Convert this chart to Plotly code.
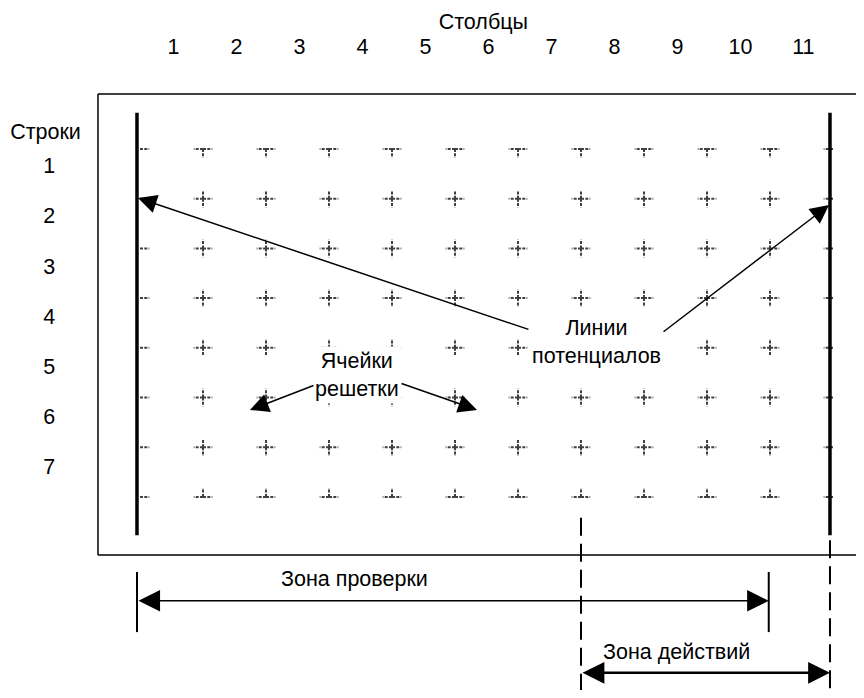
import plotly.graph_objects as go

# ---------------- data ----------------
col_labels = ["1", "2", "3", "4", "5", "6", "7", "8", "9", "10", "11"]
row_labels = ["1", "2", "3", "4", "5", "6", "7"]
col_title = "Столбцы"
row_title = "Строки"
n_cols = len(col_labels)        # cells per row -> boundaries 0..11
n_rows = len(row_labels)        # cells per column -> boundaries 0..7

label_cells = "Ячейки<br>решетки"
label_lines = "Линии<br>потенциалов"
label_check = "Зона проверки"
label_action = "Зона действий"

# ---------------- layout constants (page geometry) ----------------
W, H = 856, 682          # figure size (page body has an 8px margin)
OFF = 8
PX_X0, PX_DX = 140, 63   # page x of boundary 0, px per column
PX_Y0, PX_DY = 149, 49.7 # page y of boundary 0, px per row

FONT = "Arial, Liberation Sans, sans-serif"
FS = 21.5
CROSS_COLOR = "#404040"
ARM_X = 9.3 / PX_DX
ARM_Y = 8.8 / PX_DY

X_MIN = (OFF - PX_X0) / PX_DX
X_MAX = (OFF + W - PX_X0) / PX_DX

# ---------------- grid crosses ----------------
hx, hy, vx, vy = [], [], [], []
for i in range(n_cols + 1):
    for j in range(n_rows + 1):
        if i > 0:
            hx += [i, i - ARM_X, None]; hy += [j, j, None]
        if i < n_cols:
            hx += [i, i + ARM_X, None]; hy += [j, j, None]
        if 0 < i < n_cols:
            if j > 0:
                vx += [i, i, None]; vy += [j, j - ARM_Y, None]
            if j < n_rows:
                vx += [i, i, None]; vy += [j, j + ARM_Y, None]

fig = go.Figure()
fig.add_trace(go.Scatter(x=hx, y=hy, mode="lines", hoverinfo="skip",
                         line=dict(color=CROSS_COLOR, width=2, dash="3px,1.3px")))
fig.add_trace(go.Scatter(x=vx, y=vy, mode="lines", hoverinfo="skip",
                         line=dict(color=CROSS_COLOR, width=2, dash="3px,1.3px")))

# column / row labels
tf = dict(family=FONT, size=FS, color="black")
fig.add_trace(go.Scatter(x=[i + 0.53 for i in range(n_cols)], y=[-2.02] * n_cols,
                         mode="text", text=col_labels, hoverinfo="skip", textfont=tf))
fig.add_trace(go.Scatter(x=[n_cols / 2 - 0.05], y=[-2.53], mode="text", text=[col_title],
                         hoverinfo="skip", textfont=tf))
fig.add_trace(go.Scatter(x=[-1.44] * n_rows, y=[j * 1.01 + 0.38 for j in range(n_rows)],
                         mode="text", text=row_labels, hoverinfo="skip", textfont=tf))
fig.add_trace(go.Scatter(x=[-1.5], y=[-0.3], mode="text", text=[row_title],
                         hoverinfo="skip", textfont=tf))

# ---------------- shapes ----------------
shapes = []
frame = dict(color="black", width=1.5)
X_FRAME_L, Y_FRAME_T, Y_FRAME_B = -0.667, -1.107, 8.17
shapes.append(dict(type="line", xref="x", yref="y", x0=X_FRAME_L, x1=X_MAX,
                   y0=Y_FRAME_T, y1=Y_FRAME_T, line=frame))
shapes.append(dict(type="line", xref="x", yref="y", x0=X_FRAME_L, x1=X_MAX,
                   y0=Y_FRAME_B, y1=Y_FRAME_B, line=frame))
shapes.append(dict(type="line", xref="x", yref="y", x0=X_FRAME_L, x1=X_FRAME_L,
                   y0=Y_FRAME_T, y1=Y_FRAME_B, line=frame))
# potential lines (thick)
for xl in (-0.048, 10.952):
    shapes.append(dict(type="line", xref="x", yref="y", x0=xl, x1=xl, y0=-0.73, y1=7.77,
                       line=dict(color="black", width=3.5)))
# dashed extensions
shapes.append(dict(type="line", xref="x", yref="y", x0=7, x1=7, y0=7.42, y1=11.4,
                   line=dict(color="black", width=2, dash="18px,8px")))
shapes.append(dict(type="line", xref="x", yref="y", x0=10.952, x1=10.952, y0=7.87, y1=11.4,
                   line=dict(color="black", width=2, dash="18px,8px")))
# zone check ticks
for xl in (-0.048, 9.98):
    shapes.append(dict(type="line", xref="x", yref="y", x0=xl, x1=xl, y0=8.51, y1=9.72,
                       line=dict(color="black", width=2)))

# ---------------- annotations ----------------
ann = []
tfont = dict(family=FONT, size=FS, color="black")
ann.append(dict(x=3.44, y=4.55, xref="x", yref="y", text=label_cells, showarrow=False,
                font=tfont, bgcolor="white", borderpad=2, align="center"))
ann.append(dict(x=7.24, y=3.88, xref="x", yref="y", text=label_lines, showarrow=False,
                font=tfont, bgcolor="white", borderpad=2, align="center"))
ann.append(dict(x=3.4, y=8.66, xref="x", yref="y", text=label_check, showarrow=False, font=tfont))
ann.append(dict(x=8.52, y=10.12, xref="x", yref="y", text=label_action, showarrow=False, font=tfont))


def arrow(tail, tip, width=1.5, size=2.5, both=False):
    d = dict(x=tip[0], y=tip[1], ax=tail[0], ay=tail[1], xref="x", yref="y",
             axref="x", ayref="y", text="", showarrow=True, arrowhead=2,
             arrowsize=size, arrowwidth=width, arrowcolor="black", standoff=0)
    if both:
        d.update(arrowside="end+start", startarrowhead=2, startarrowsize=size, startstandoff=0)
    return d

ann.append(arrow((6.19, 3.64), (-0.032, 0.986)))
ann.append(arrow((8.286, 3.70), (10.937, 1.127)))
ann.append(arrow((2.778, 4.748), (1.746, 5.25)))
ann.append(arrow((4.127, 4.708), (5.349, 5.25)))
ann.append(arrow((-0.048, 9.09), (9.98, 9.09), width=1.6, size=2.7, both=True))
ann.append(arrow((7.0, 10.54), (10.952, 10.54), width=2.5, size=1.75, both=True))

fig.update_layout(
    width=W, height=H, margin=dict(l=0, r=0, t=0, b=0),
    paper_bgcolor="white", plot_bgcolor="white", showlegend=False,
    shapes=shapes, annotations=ann,
    xaxis=dict(range=[X_MIN, X_MAX], visible=False, fixedrange=True),
    yaxis=dict(range=[(OFF + H - PX_Y0) / PX_DY, (OFF - PX_Y0) / PX_DY], visible=False,
               fixedrange=True),
)

fig.write_html("out.html")
